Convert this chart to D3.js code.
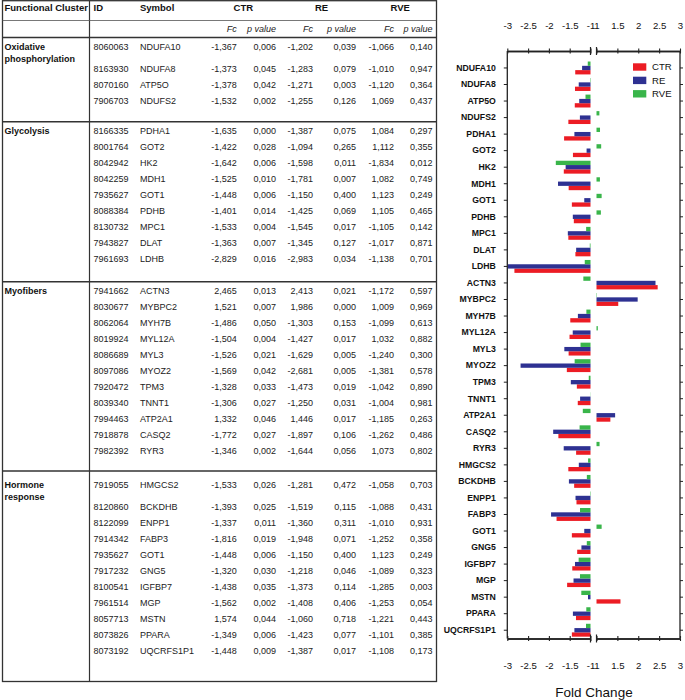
<!DOCTYPE html>
<html lang="en">
<head>
<meta charset="utf-8">
<title>Fold change table and chart</title>
<script src="https://cdn.jsdelivr.net/npm/d3@7"></script>
<style>
  body { margin: 0; background: #fff; }
  svg { display: block; font-family: "Liberation Sans", Arial, sans-serif; }
</style>
</head>
<body>
<svg width="685" height="700"></svg>
<script>
var clusters = ["Oxidative|phosphorylation", "Glycolysis", "Myofibers", "Hormone|response"];
var clusterOf = [0,0,0,0, 1,1,1,1,1,1,1,1,1, 2,2,2,2,2,2,2,2,2,2,2, 3,3,3,3,3,3,3,3,3,3,3];
var ids = ["8060063","8163930","8070160","7906703",
  "8166335","8001764","8042942","8042259","7935627","8088384","8130732","7943827","7961693",
  "7941662","8030677","8062064","8019924","8086689","8097086","7920472","8039340","7994463","7918878","7982392",
  "7919055","8120860","8122099","7914342","7935627","7917232","8100541","7961514","8057713","8073826","8073192"];
var symbols = ["NDUFA10","NDUFA8","ATP5O","NDUFS2",
  "PDHA1","GOT2","HK2","MDH1","GOT1","PDHB","MPC1","DLAT","LDHB",
  "ACTN3","MYBPC2","MYH7B","MYL12A","MYL3","MYOZ2","TPM3","TNNT1","ATP2A1","CASQ2","RYR3",
  "HMGCS2","BCKDHB","ENPP1","FABP3","GOT1","GNG5","IGFBP7","MGP","MSTN","PPARA","UQCRFS1P1"];
var ctrFc = [-1.367,-1.373,-1.378,-1.532,
  -1.635,-1.422,-1.642,-1.525,-1.448,-1.401,-1.533,-1.363,-2.829,
  2.465,1.521,-1.486,-1.504,-1.526,-1.569,-1.328,-1.306,1.332,-1.772,-1.346,
  -1.533,-1.393,-1.337,-1.816,-1.448,-1.320,-1.438,-1.562,1.574,-1.349,-1.448];
var ctrP = [0.006,0.045,0.042,0.002,
  0.000,0.028,0.006,0.010,0.006,0.014,0.004,0.007,0.016,
  0.013,0.007,0.050,0.004,0.021,0.042,0.033,0.027,0.046,0.027,0.002,
  0.026,0.025,0.011,0.019,0.006,0.030,0.035,0.002,0.044,0.006,0.009];
var reFc = [-1.202,-1.283,-1.271,-1.255,
  -1.387,-1.094,-1.598,-1.781,-1.150,-1.425,-1.545,-1.345,-2.983,
  2.413,1.986,-1.303,-1.427,-1.629,-2.681,-1.473,-1.250,1.446,-1.897,-1.644,
  -1.281,-1.519,-1.360,-1.948,-1.150,-1.218,-1.373,-1.408,-1.060,-1.423,-1.387];
var reP = [0.039,0.079,0.003,0.126,
  0.075,0.265,0.011,0.007,0.400,0.069,0.017,0.127,0.034,
  0.021,0.000,0.153,0.017,0.005,0.005,0.019,0.031,0.017,0.106,0.056,
  0.472,0.115,0.311,0.071,0.400,0.046,0.114,0.406,0.718,0.077,0.017];
var rveFc = [-1.066,-1.010,-1.120,1.069,
  1.084,1.112,-1.834,1.082,1.123,1.105,-1.105,-1.017,-1.138,
  -1.172,1.009,-1.099,1.032,-1.240,-1.381,-1.042,-1.004,-1.185,-1.262,1.073,
  -1.058,-1.088,-1.010,-1.252,1.123,-1.089,-1.285,-1.253,-1.221,-1.101,-1.108];
var rveP = [0.140,0.947,0.364,0.437,
  0.297,0.355,0.012,0.749,0.249,0.465,0.142,0.871,0.701,
  0.597,0.969,0.613,0.882,0.300,0.578,0.890,0.981,0.263,0.486,0.802,
  0.703,0.431,0.931,0.358,0.249,0.323,0.003,0.054,0.443,0.385,0.173];
var groups = ["CTR", "RE", "RVE"];
var colors = ["#ec1c24", "#2e3192", "#39b54a"];
var negTicks = [-3, -2.5, -2, -1.5, -1];
var posTicks = [1, 1.5, 2, 2.5, 3];

var series = [ctrFc, reFc, rveFc];
var pvals = [ctrP, reP, rveP];

var svg = d3.select("svg");
var fmt = d3.formatLocale({decimal: ",", thousands: ".", grouping: [3], currency: ["", ""], minus: "-"}).format(".3f");
var tickFmt = d3.formatLocale({decimal: ".", thousands: ",", grouping: [3], currency: ["", ""], minus: "-"}).format("");

// ---- table ----
var tab = svg.append("g");
var tL = 2.5, tR = 436.5, tTop = 0.7, tBot = 681.5, colLine = 89.5;
var groupLines = [37.5, 121.7, 281.7, 471, tBot];
var firstOff = [9, 9, 9, 14];
var pitch = 16;

// row y positions
var rowY = [];
clusters.forEach(function (c, g) {
  var two = c.indexOf("|") >= 0;
  var yy = groupLines[g] + firstOff[g];
  var k = 0;
  clusterOf.forEach(function (ci, i) {
    if (ci !== g) return;
    rowY[i] = yy;
    yy += pitch + (k === 0 && two ? 6 : 0);
    k++;
  });
});

tab.append("rect").attr("x", tL).attr("y", tTop).attr("width", tR - tL).attr("height", tBot - tTop)
  .attr("fill", "none").attr("stroke", "#333").attr("stroke-width", 1.3);
tab.append("line").attr("x1", colLine).attr("x2", colLine).attr("y1", tTop).attr("y2", tBot)
  .attr("stroke", "#333").attr("stroke-width", 1.2);
tab.append("line").attr("x1", tL).attr("x2", tR).attr("y1", 20.5).attr("y2", 20.5)
  .attr("stroke", "#555").attr("stroke-width", 0.8);
groupLines.slice(0, 4).forEach(function (yy) {
  tab.append("line").attr("x1", tL).attr("x2", tR).attr("y1", yy).attr("y2", yy)
    .attr("stroke", "#333").attr("stroke-width", 1.4);
});

// header
var hdr = tab.append("g").attr("font-weight", "bold").attr("font-size", 9.5).attr("fill", "#111");
hdr.append("text").attr("x", 4.5).attr("y", 8).attr("dy", "0.35em").text("Functional Cluster");
hdr.append("text").attr("x", 93.5).attr("y", 8).attr("dy", "0.35em").text("ID");
hdr.append("text").attr("x", 140).attr("y", 8).attr("dy", "0.35em").text("Symbol");
var fcX = [236.7, 313, 394], pX = [276, 356, 432.5];
groups.forEach(function (g, j) {
  hdr.append("text").attr("x", (fcX[j] + pX[j]) / 2 - 13).attr("y", 8).attr("dy", "0.35em")
    .attr("text-anchor", "middle").text(g);
  tab.append("text").attr("x", fcX[j]).attr("y", 29).attr("dy", "0.35em").attr("text-anchor", "end")
    .attr("font-style", "italic").attr("font-size", 9).attr("fill", "#222").text("Fc");
  tab.append("text").attr("x", pX[j]).attr("y", 29).attr("dy", "0.35em").attr("text-anchor", "end")
    .attr("font-style", "italic").attr("font-size", 9).attr("fill", "#222").text("p value");
});

// cluster labels
clusters.forEach(function (c, g) {
  var first = clusterOf.indexOf(g);
  c.split("|").forEach(function (part, k) {
    tab.append("text").attr("x", 4.5).attr("y", rowY[first] + k * 12).attr("dy", "0.35em")
      .attr("font-weight", "bold").attr("font-size", 9).attr("fill", "#111").text(part);
  });
});

// data rows
var rows = tab.selectAll("g.row").data(symbols).enter().append("g").attr("class", "row")
  .attr("font-size", 9).attr("fill", "#222")
  .attr("transform", function (d, i) { return "translate(0," + rowY[i] + ")"; });
rows.append("text").attr("x", 93.5).attr("dy", "0.35em").text(function (d, i) { return ids[i]; });
rows.append("text").attr("x", 140).attr("dy", "0.35em").text(function (d) { return d; });
groups.forEach(function (g, j) {
  rows.append("text").attr("x", fcX[j]).attr("dy", "0.35em").attr("text-anchor", "end")
    .text(function (d, i) { return fmt(series[j][i]); });
  rows.append("text").attr("x", pX[j]).attr("dy", "0.35em").attr("text-anchor", "end")
    .text(function (d, i) { return fmt(pvals[j][i]); });
});

// ---- bar chart (broken axis) ----
var plotTop = 51, plotBottom = 638.5;
var xL = d3.scaleLinear().domain([-3, -1]).range([507.3, 590.5]);
var xR = d3.scaleLinear().domain([1, 3]).range([596.5, 680]);
var y = d3.scaleBand().domain(d3.range(symbols.length)).range([59.7, plotBottom]).paddingInner(0.22).paddingOuter(0.11);
var yIn = d3.scaleBand().domain(["RVE", "RE", "CTR"]).range([0, y.bandwidth()]);

var chart = svg.append("g");
var bars = [];
symbols.forEach(function (s, i) {
  groups.forEach(function (g, j) { bars.push({i: i, g: g, j: j, v: series[j][i]}); });
});
chart.selectAll("rect.bar").data(bars).enter().append("rect").attr("class", "bar")
  .attr("x", function (d) { return d.v < 0 ? xL(d.v) : xR(1); })
  .attr("width", function (d) { return d.v < 0 ? xL(-1) - xL(d.v) : xR(d.v) - xR(1); })
  .attr("y", function (d) { return y(d.i) + yIn(d.g); })
  .attr("height", yIn.bandwidth())
  .attr("fill", function (d) { return colors[d.j]; });

// category axes
var yAxisL = chart.append("g").attr("transform", "translate(507.3,0)")
  .call(d3.axisLeft(y).tickSize(3.5).tickPadding(8).tickFormat(function (i) { return symbols[i]; }));
yAxisL.select(".domain").remove();
yAxisL.selectAll("text").attr("font-weight", "bold").attr("font-size", 8.7).attr("fill", "#111")
  .attr("font-family", "Liberation Sans, Arial, sans-serif");
yAxisL.selectAll("line").attr("stroke", "#222");
var yAxisR = chart.append("g").attr("transform", "translate(680,0)")
  .call(d3.axisRight(y).tickSize(3).tickFormat(""));
yAxisR.select(".domain").remove();
yAxisR.selectAll("line").attr("stroke", "#222");

// x axes, top and bottom; ticks cross the frame line
function xAxes(yPos, labelsOnTop) {
  [[xL, negTicks], [xR, posTicks]].forEach(function (p) {
    var sc = p[0], tv = p[1];
    var labelled = labelsOnTop
      ? d3.axisTop(sc).tickValues(tv).tickSize(2.5).tickPadding(20).tickFormat(tickFmt)
      : d3.axisBottom(sc).tickValues(tv).tickSize(2.5).tickPadding(21).tickFormat(tickFmt);
    var plain = labelsOnTop
      ? d3.axisBottom(sc).tickValues(tv).tickSize(2.5).tickFormat("")
      : d3.axisTop(sc).tickValues(tv).tickSize(2.5).tickFormat("");
    var a1 = chart.append("g").attr("transform", "translate(0," + yPos + ")").call(labelled.tickSizeOuter(0));
    var a2 = chart.append("g").attr("transform", "translate(0," + yPos + ")").call(plain.tickSizeOuter(0));
    a1.selectAll("text").attr("font-size", 9.6).attr("fill", "#111")
      .attr("font-family", "Liberation Sans, Arial, sans-serif");
    [a1, a2].forEach(function (a) {
      a.selectAll("line").attr("stroke", "#222").attr("stroke-width", 1.1);
      a.select(".domain").attr("stroke", "#222").attr("stroke-width", 1.3);
    });
    // break marks at -1 and 1
    var edge = tv.indexOf(-1) >= 0 ? -1 : 1;
    chart.append("line").attr("x1", sc(edge)).attr("x2", sc(edge)).attr("y1", yPos - 4).attr("y2", yPos + 4)
      .attr("stroke", "#222").attr("stroke-width", 1.2);
  });
}
xAxes(plotTop, true);
xAxes(plotBottom, false);

// outer vertical frame lines
chart.append("line").attr("x1", 507.3).attr("x2", 507.3).attr("y1", plotTop).attr("y2", plotBottom)
  .attr("stroke", "#222").attr("stroke-width", 1.3);
chart.append("line").attr("x1", 680).attr("x2", 680).attr("y1", plotTop).attr("y2", plotBottom)
  .attr("stroke", "#222").attr("stroke-width", 1.3);

// legend
var leg = chart.selectAll("g.leg").data(groups).enter().append("g").attr("class", "leg")
  .attr("transform", function (d, j) { return "translate(633," + (63.3 + j * 13.4) + ")"; });
leg.append("rect").attr("width", 13.3).attr("height", 7.4).attr("fill", function (d, j) { return colors[j]; });
leg.append("text").attr("x", 19).attr("y", 3.7).attr("dy", "0.35em").attr("font-size", 9.6).attr("fill", "#111")
  .text(function (d) { return d; });

// axis title
svg.append("text").attr("x", 594).attr("y", 692).attr("dy", "0.35em").attr("text-anchor", "middle")
  .attr("font-size", 13.5).attr("fill", "#111").text("Fold Change");
</script>
</body>
</html>
